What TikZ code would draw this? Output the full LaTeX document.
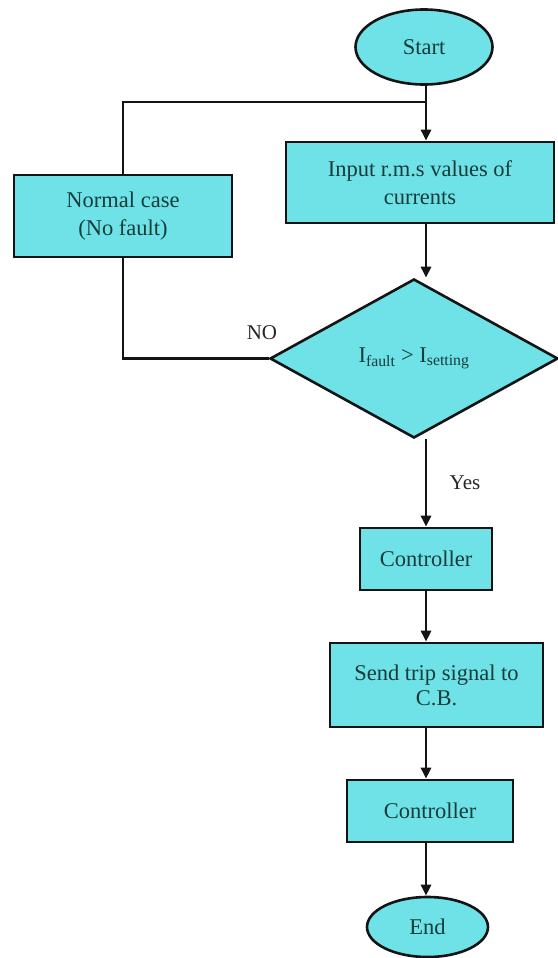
\documentclass[tikz,border=0pt]{standalone}
\usepackage{fontspec}
\setmainfont{Liberation Serif}
\usetikzlibrary{shapes.geometric,arrows.meta,positioning}
\definecolor{boxfill}{HTML}{6EE2E6}
\definecolor{boxtext}{HTML}{163C3C}
\definecolor{lineclr}{HTML}{141414}
\tikzset{
  base/.style={draw=lineclr, line width=2.6pt, fill=boxfill, text=boxtext, inner sep=0pt, align=center,
    font=\fontsize{22.5}{28}\selectfont},
  procbox/.style={base, rectangle},
  termbox/.style={base, ellipse},
  decbox/.style={base, diamond},
  conn/.style={draw=lineclr, line width=2.6pt},
  arr/.style={conn, -{Triangle[length=11pt,width=10pt]}},
  lbl/.style={text=black!85, font=\fontsize{21}{24}\selectfont, inner sep=0pt}
}
\begin{document}
\begin{tikzpicture}[x=1pt,y=1pt]
\useasboundingbox (0,0) rectangle (557,-958);
\coordinate (trunk) at (426,0);
\node[termbox, minimum width=137pt, minimum height=75pt] (start) at (424,-47) {Start};
\node[procbox, minimum width=268pt, minimum height=81pt] (input) at (420,-182.5) {Input r.m.s values of\\currents};
\node[procbox, minimum width=218pt, minimum height=82pt] (normal) at (123,-216) {Normal case\\(No fault)};
\node[decbox, minimum width=288pt, minimum height=159pt, aspect=1.81] (diam) at (414,-358.5) {I\textsubscript{fault} > I\textsubscript{setting}};
\node[procbox, minimum width=132pt, minimum height=62pt] (ctrl1) at (426,-559) {Controller};
\node[procbox, minimum width=213pt, minimum height=84pt, font=\fontsize{22.5}{25}\selectfont] (send) at (436.5,-685) {Send trip signal to\\C.B.};
\node[procbox, minimum width=166pt, minimum height=62pt] (ctrl2) at (430,-811) {Controller};
\node[termbox, minimum width=121pt, minimum height=60pt] (end) at (427.5,-927) {End};
\coordinate (join) at (426,-102);
\node[lbl] (no) at (262,-333) {NO};
\node[lbl] (yes) at (465,-483) {Yes};
% connectors
\draw[arr] (start.south -| trunk) -- (input.north -| trunk);
\draw[conn] (join) -| (normal.north);
\draw[conn] (normal.south) |- (diam.west);
\draw[arr] (input.south -| trunk) -- (diam.north -| trunk);
\draw[arr] (diam.south -| trunk) -- (ctrl1.north -| trunk);
\draw[arr] (ctrl1.south -| trunk) -- (send.north -| trunk);
\draw[arr] (send.south -| trunk) -- (ctrl2.north -| trunk);
\draw[arr] (ctrl2.south -| trunk) -- (end.north -| trunk);
\end{tikzpicture}
\end{document}
